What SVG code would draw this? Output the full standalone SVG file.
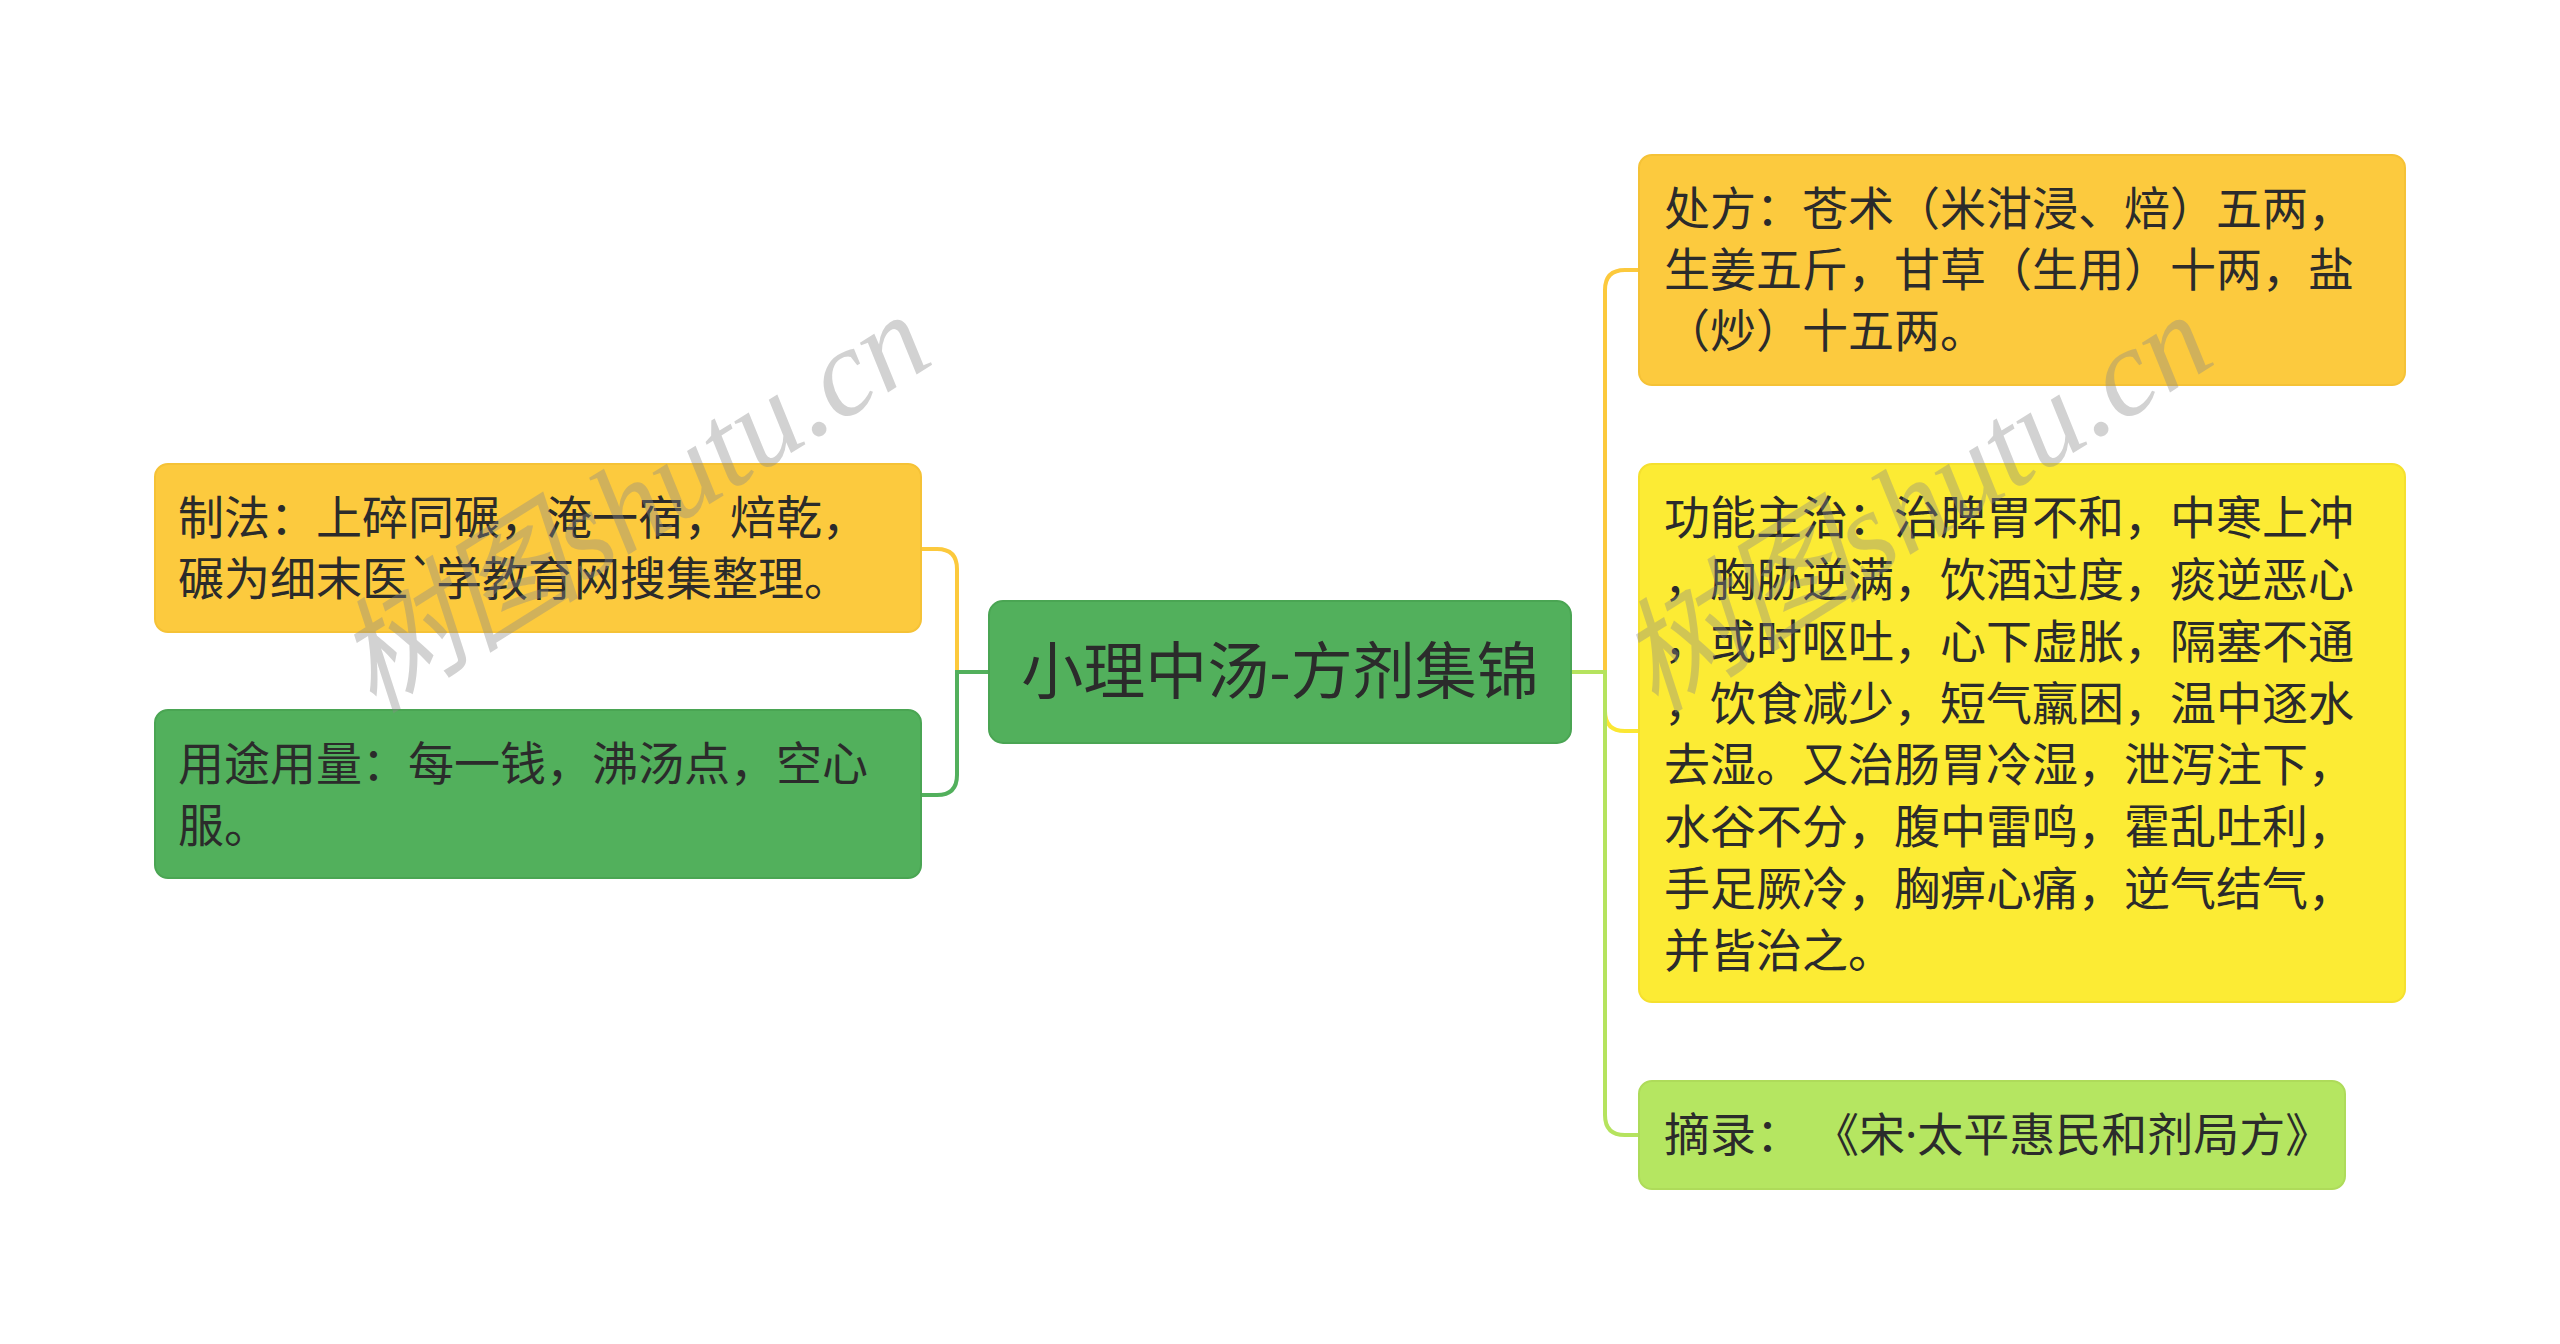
<svg xmlns="http://www.w3.org/2000/svg" width="2560" height="1344" viewBox="0 0 2560 1344">
<style>
.t{font-family:"Noto Sans CJK SC","Noto Sans",sans-serif;font-size:46px;fill:#2b2b2b}
.c{font-family:"Noto Sans CJK SC","Noto Sans",sans-serif;font-size:62px;fill:#2b2b2b}
.ln{fill:none;stroke-width:4;stroke-linecap:round}
.wm{font-family:"Liberation Serif","Noto Sans CJK SC",serif;font-style:italic;font-size:124px;fill:#8a8a8a;opacity:0.38}
</style>
<rect width="2560" height="1344" fill="#ffffff"/>
<g id="connectors">
<path class="ln" stroke="#fcc93c" d="M989 672 H957 V569 Q957 549 937 549 H921"/>
<path class="ln" stroke="#52b05c" d="M989 672 H957 V775 Q957 795 937 795 H921"/>
<path class="ln" stroke="#fcc93c" d="M1571 672 H1605 V290 Q1605 270 1625 270 H1639"/>
<path class="ln" stroke="#fbe733" d="M1571 672 H1605 V711 Q1605 731 1625 731 H1639"/>
<path class="ln" stroke="#b5e35e" d="M1571 672 H1605 V1115 Q1605 1135 1625 1135 H1639"/>
</g>
<g id="center">
<rect x="989" y="601" width="582" height="142" rx="14" fill="#52b05c" stroke="#4aa553" stroke-width="2"/>
<text class="c" x="1280" y="694" text-anchor="middle">小理中汤-方剂集锦</text>
</g>
<g id="zhifa">
<rect x="155" y="464" width="766" height="168" rx="13" fill="#fcca3e" stroke="#f5c236" stroke-width="2"/>
<text class="t" x="178" y="534">制法：上碎同碾，淹一宿，焙乾，</text>
<text class="t" x="178" y="595">碾为细末医`学教育网搜集整理。</text>
</g>
<g id="yongtu">
<rect x="155" y="710" width="766" height="168" rx="13" fill="#52b05c" stroke="#4aa553" stroke-width="2"/>
<text class="t" x="178" y="780">用途用量：每一钱，沸汤点，空心</text>
<text class="t" x="178" y="842">服。</text>
</g>
<g id="chufang">
<rect x="1639" y="155" width="766" height="230" rx="13" fill="#fcca3e" stroke="#f5c236" stroke-width="2"/>
<text class="t" x="1664" y="225">处方：苍术（米泔浸、焙）五两，</text>
<text class="t" x="1664" y="286">生姜五斤，甘草（生用）十两，盐</text>
<text class="t" x="1664" y="347">（炒）十五两。</text>
</g>
<g id="gongneng">
<rect x="1639" y="464" width="766" height="538" rx="13" fill="#fceb34" stroke="#f5e02e" stroke-width="2"/>
<text class="t" x="1664" y="534">功能主治：治脾胃不和，中寒上冲</text>
<text class="t" x="1664" y="596">，胸胁逆满，饮酒过度，痰逆恶心</text>
<text class="t" x="1664" y="658">，或时呕吐，心下虚胀，隔塞不通</text>
<text class="t" x="1664" y="720">，饮食减少，短气羸困，温中逐水</text>
<text class="t" x="1664" y="781">去湿。又治肠胃冷湿，泄泻注下，</text>
<text class="t" x="1664" y="843">水谷不分，腹中雷鸣，霍乱吐利，</text>
<text class="t" x="1664" y="905">手足厥冷，胸痹心痛，逆气结气，</text>
<text class="t" x="1664" y="967">并皆治之。</text>
</g>
<g id="zhailu">
<rect x="1639" y="1081" width="706" height="108" rx="13" fill="#b5e661" stroke="#aedb5a" stroke-width="2"/>
<text class="t" x="1664" y="1151">摘录：<tspan dx="34">《宋</tspan><tspan font-family="Noto Sans, sans-serif">·</tspan>太平惠民和剂局方》</text>
</g>
<g id="watermarks">
<text class="wm" x="640" y="514" text-anchor="middle" dominant-baseline="middle" transform="rotate(-32 640 514)">树图shutu.cn</text>
<text class="wm" x="1922" y="514" text-anchor="middle" dominant-baseline="middle" transform="rotate(-32 1922 514)">树图shutu.cn</text>
</g>
</svg>
